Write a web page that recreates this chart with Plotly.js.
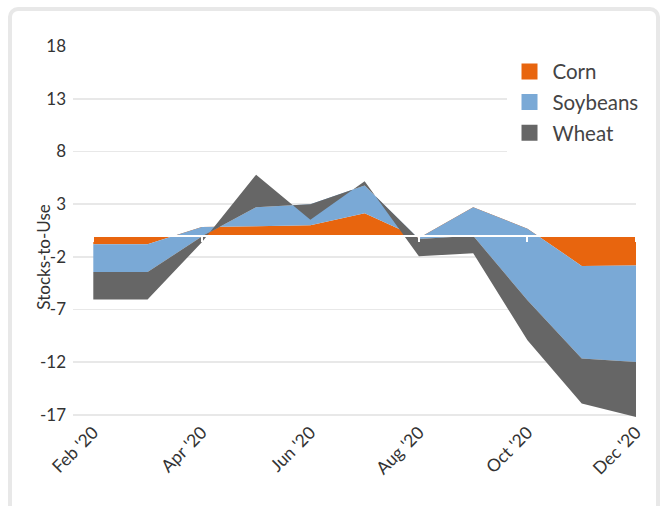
<!DOCTYPE html>
<html>
<head>
<meta charset="utf-8">
<script src="https://cdn.plot.ly/plotly-3.0.1.min.js"></script>
<style>
  html, body { margin: 0; padding: 0; background: #fff; }
  #card {
    position: absolute; left: 8px; top: 7px; width: 644px; height: 600px;
    border: 4px solid #e8e8e8; border-radius: 10px; background: #fff;
  }
  #myDiv { position: absolute; left: 0; top: 0; width: 662px; height: 506px; }
</style>
</head>
<body>
<div id="card"></div>
<div id="myDiv"></div>
<script>
// monthly change in stocks-to-use
var months = ["Feb '20", "Mar '20", "Apr '20", "May '20", "Jun '20", "Jul '20",
              "Aug '20", "Sep '20", "Oct '20", "Nov '20", "Dec '20"];
var tickLabels = ["Feb '20", "Apr '20", "Jun '20", "Aug '20", "Oct '20", "Dec '20"];
var yTicks = [-17, -12, -7, -2, 3, 8, 13, 18];

var corn     = [-0.8, -0.8, 0.83, 0.9, 1.0, 2.15, -0.2, 2.72, 0.68, -2.86, -2.81];
var soybeans = [-2.64, -2.64, -0.9, 1.82, 2.0, 2.63, -0.1, -2.72, -6.81, -8.8, -9.17];
var wheat    = [-2.62, -2.62, -0.54, 3.08, -1.47, 0.41, -1.65, -1.65, -3.79, -4.27, -5.22];

var names  = ['Corn', 'Soybeans', 'Wheat'];
var colors = ['#e8650e', '#7aa9d6', '#666666'];
var series = [corn, soybeans, wheat];

var yRange = [-17.3, 18.02];
var xRange = [-0.374, 10];
var tickIdx = tickLabels.map(function (t) { return months.indexOf(t); });

var data = [];
for (var i = 0; i < series.length; i++) {
  data.push({
    type: 'scatter',
    x: months,
    y: series[i],
    stackgroup: 'one',
    mode: 'none',
    fillcolor: colors[i],
    name: names[i],
    showlegend: false,
    hoverinfo: 'skip'
  });
}
// legend swatches
for (var j = 0; j < names.length; j++) {
  data.push({
    type: 'scatter',
    x: [null], y: [null],
    mode: 'markers',
    marker: {symbol: 'square', size: 16, color: colors[j]},
    name: names[j],
    legendgroup: names[j],
    hoverinfo: 'skip'
  });
}
// white base line with ticks at zero
data.push({type: 'scatter', x: [], y: [], xaxis: 'x2', showlegend: false, hoverinfo: 'skip'});

var layout = {
  width: 662,
  height: 506,
  margin: {l: 73, r: 26, t: 46, b: 88},
  paper_bgcolor: 'rgba(0,0,0,0)',
  plot_bgcolor: 'rgba(0,0,0,0)',
  font: {family: 'Lato, sans-serif', color: '#333333'},
  showlegend: true,
  legend: {
    x: 0.77, y: 0.985, xanchor: 'left', yanchor: 'top',
    bgcolor: '#ffffff',
    traceorder: 'grouped',
    tracegroupgap: 1,
    itemwidth: 36,
    font: {size: 20.5, color: '#444444'}
  },
  xaxis: {
    type: 'category',
    range: xRange,
    tickvals: tickLabels,
    ticktext: tickLabels,
    tickangle: -45,
    tickfont: {size: 17.5},
    showgrid: false,
    zeroline: false,
    showline: false,
    ticks: ''
  },
  xaxis2: {
    overlaying: 'x',
    anchor: 'free',
    position: (0 - yRange[0]) / (yRange[1] - yRange[0]),
    range: xRange,
    tickvals: tickIdx,
    showticklabels: false,
    ticks: 'outside',
    ticklen: 5,
    tickwidth: 2,
    tickcolor: '#ffffff',
    showline: true,
    linecolor: '#ffffff',
    linewidth: 2.5,
    showgrid: false,
    zeroline: false,
    layer: 'above traces'
  },
  yaxis: {
    range: yRange,
    tickvals: yTicks,
    ticktext: yTicks.map(String),
    tickfont: {size: 17},
    gridcolor: '#e8e8e8',
    gridwidth: 1.5,
    zeroline: false,
    showline: false,
    ticks: '',
    ticklabelstandoff: 6
  },
  annotations: [{
    text: 'Stocks-to-Use',
    xref: 'paper', yref: 'paper',
    x: -0.052, y: 0.433,
    xanchor: 'center', yanchor: 'middle',
    textangle: -90,
    showarrow: false,
    font: {size: 17, color: '#333333'}
  }]
};

Plotly.newPlot('myDiv', data, layout, {displayModeBar: false, staticPlot: true});
</script>
</body>
</html>
